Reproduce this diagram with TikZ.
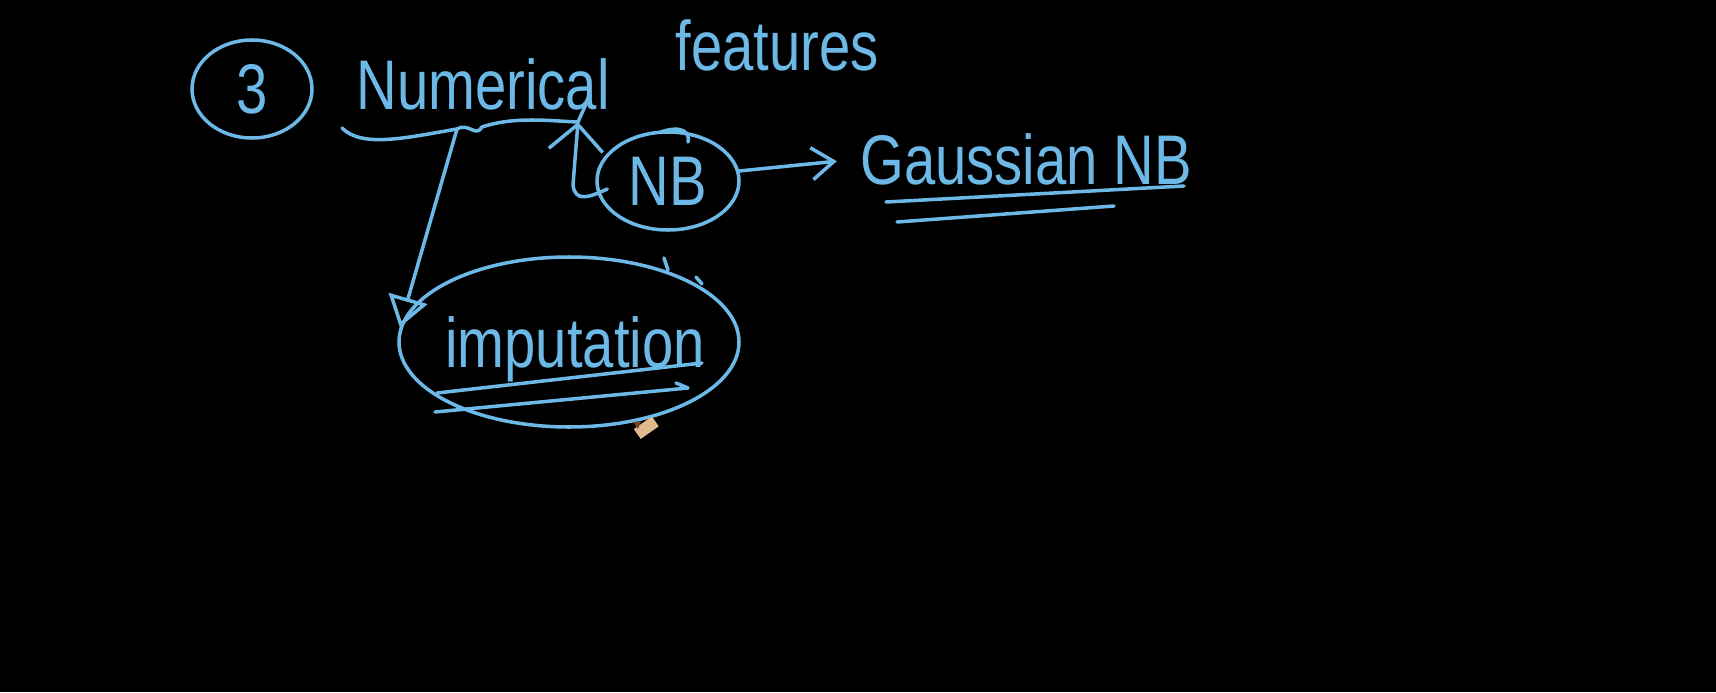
\documentclass[tikz,border=0pt]{standalone}
\usepackage{fontspec}
\setmainfont[FakeStretch=0.8]{Liberation Sans}
\usetikzlibrary{positioning,calc,arrows.meta,shapes.geometric}
\definecolor{chalk}{RGB}{108,184,230}
\definecolor{woodtan}{RGB}{222,186,142}
\definecolor{leadbrown}{RGB}{112,74,40}

\begin{document}
\begin{tikzpicture}[
	x=0.1mm, y=-0.1mm,
	word/.style={
		text=chalk, inner sep=0pt, anchor=base,
		font=\fontsize{20}{24}\selectfont
	},
	bubble/.style={
		ellipse, draw=chalk, line width=1pt, inner sep=0pt,
		text=chalk, font=\fontsize{20}{24}\selectfont
	},
	pen_line/.style={
		draw=chalk, line width=1pt, line cap=round, line join=round
	},
	ptr/.style={
		pen_line, -{Straight Barb[length=2.6mm, width=5.4mm]}
	},
	small_ptr/.style={
		pen_line, -{Straight Barb[length=2.2mm, width=3.2mm]}
	},
	tri_ptr/.style={
		pen_line, -{Triangle[open, length=3mm, width=4mm]}
	}
	]
	% === NỀN ===
	\fill[black] (0,0) rectangle (1716,692);
	\useasboundingbox (0,0) rectangle (1716,692);
	
	% === TIÊU ĐỀ ===
	\node[bubble, minimum width=12mm, minimum height=9.8mm] (three) at (252,89) {3};
	\node[word] (num) at (483,109) {Numerical};
	\node[word] (feat) at (777,71) {features};
	
	% Ngoặc dưới Numerical
	\coordinate (brk) at (457,129);
	\coordinate (junc) at (578,122);
	\coordinate (junc_top) at (590,95);
	\draw[pen_line] (342,128) .. controls (362,148) and (405,138) .. (brk)
		.. controls (468,122) and (476,138) .. (482,127)
		.. controls (515,116) and (550,121) .. (junc);
	
	% === NB ===
	\node[bubble, minimum width=14.2mm, minimum height=9.8mm] (nb) at (668,181) {NB};
	\draw[pen_line] (nb.north) ++(-8,2) .. controls (684,124) and (690,134) .. (688,142);
	\draw[ptr] ($(nb.west)+(12,8)$) .. controls (590,197) and (575,203) .. (573,185) -- (junc);
	\draw[pen_line] (junc) -- (junc_top);
	
	% NB -> Gaussian NB
	\node[word] (gauss) at (1026,184) {Gaussian NB};
	\draw[small_ptr, shorten >=2.3mm] (nb.8) -- (gauss.west);
	\draw[pen_line] (886,202) -- (1184,186);
	\draw[pen_line] (897,222) -- (1114,206);
	
	% === IMPUTATION ===
	\node[bubble, minimum width=34mm, minimum height=17mm] (imp) at (569,342) {};
	\node[word] (imp_txt) at (575,367) {imputation};
	\draw[tri_ptr] (brk) -- (imp.175);
	\draw[pen_line] (437,393) -- (702,363);
	\draw[pen_line] (435,412) -- (688,388) -- (676,383);
	% vết bút trên viền
	\draw[pen_line] (664,258) -- (668,270);
	\draw[pen_line] (696,277) -- (702,284);
	
	% Bút (con trỏ)
	\fill[woodtan, rotate around={35:(643,430)}] (636,424) rectangle (658,436);
	\fill[leadbrown] (633,422) -- (641,421) -- (638,429) -- cycle;
	
\end{tikzpicture}
\end{document}
